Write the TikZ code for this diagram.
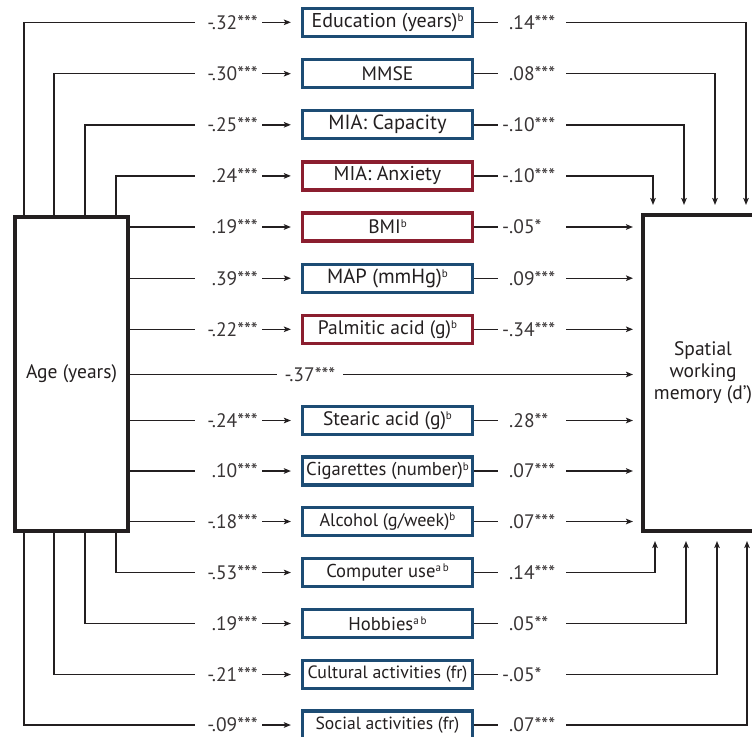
\documentclass[tikz,border=0pt]{standalone}
\usepackage{fontspec}
\setmainfont{PT Sans}
\usetikzlibrary{arrows.meta}
\definecolor{ink}{HTML}{231F20}
\definecolor{navy}{HTML}{1D4C74}
\definecolor{wine}{HTML}{8B1E2F}
\newcommand{\supx}[1]{\raisebox{0.6ex}{\fontsize{11}{11}\selectfont #1}}
\newcommand{\fs}[1]{\fontsize{#1}{20}\selectfont}
\begin{document}
\begin{tikzpicture}[x=1pt,y=-1pt,
  conn/.style={draw=ink, line width=1.4pt},
  arr/.style={conn, -{Stealth[length=7pt,width=5.5pt,inset=1.5pt]}},
  big/.style={draw=ink, line width=4pt, fill=white, inner sep=0pt,
    font=\fontsize{19.5}{22}\selectfont, align=center, text=ink},
  mid/.style={draw=navy, line width=3.2pt, fill=white, minimum width=170pt,
    minimum height=28pt, inner sep=0pt, font=\fs{19.5}, text=ink},
  midr/.style={mid, draw=wine},
  lab/.style={fill=white, inner ysep=2pt, font=\fontsize{19.5}{20}\selectfont, text=ink!90},
  labl/.style={lab, anchor=east, inner xsep=4pt, text width=59pt, align=right},
  labr/.style={lab, anchor=west, inner xsep=0pt, text width=68pt, align=left},
]
\useasboundingbox (0,0) rectangle (752,736);
\clip (0,0) rectangle (752,736);

\node[big, minimum width=113pt, minimum height=314pt] (age) at (71.5,374) {Age (years)};
\node[big, minimum width=120pt, minimum height=316pt] (swm) at (703,373) {Spatial\\working\\memory (d’)};

\node[mid, font=\fs{20}]    (edu) at (387.5,22.3)  {Education (years)\supx{b}};
\node[mid]                  (mmse) at (387.5,73.7) {MMSE};
\node[mid, font=\fs{20.5}]  (cap) at (387.5,124.8) {MIA: Capacity};
\node[midr, font=\fs{20}]   (anx) at (387.5,175.9) {MIA: Anxiety};
\node[midr]                 (bmi) at (387.5,227)   {BMI\supx{b}};
\node[mid, font=\fs{20.5}]  (map) at (387.5,278.2) {MAP (mmHg)\supx{b}};
\node[midr]                 (pal) at (387.5,329.3) {Palmitic acid (g)\supx{b}};
\node[mid]                  (ste) at (387.5,420.5) {Stearic acid (g)\supx{b}};
\node[mid, font=\fs{18.6}]  (cig) at (387.5,471)   {Cigarettes (number)\supx{b}};
\node[mid, font=\fs{18.2}]  (alc) at (387.5,521.5) {Alcohol (g/week)\supx{b}};
\node[mid, font=\fs{18.6}]  (com) at (387.5,572.5) {Computer use\supx{a\,b}};
\node[mid, font=\fs{18.6}]  (hob) at (387.5,623.5) {Hobbies\supx{a\,b}};
\node[mid, font=\fs{17.8}]  (cul) at (387.5,674.5) {Cultural activities (fr)};
\node[mid, font=\fs{17.6}]  (soc) at (387.5,725)   {Social activities (fr)};

% left connectors: elbows from top
\draw[arr, shorten >=10pt] ([xshift=11pt]age.north west) |- (edu.west);
\draw[arr, shorten >=10pt] ([xshift=41pt]age.north west) |- (mmse.west);
\draw[arr, shorten >=10pt] ([xshift=72pt]age.north west) |- (cap.west);
\draw[arr, shorten >=10pt] ([xshift=103pt]age.north west) |- (anx.west);
% left straight
\foreach \n in {bmi,map,pal,ste,cig,alc}
  \draw[arr, shorten >=10pt] (age.east |- \n.west) -- (\n.west);
% left elbows from bottom
\draw[arr, shorten >=10pt] ([xshift=103pt]age.south west) |- (com.west);
\draw[arr, shorten >=10pt] ([xshift=72pt]age.south west) |- (hob.west);
\draw[arr, shorten >=10pt] ([xshift=41pt]age.south west) |- (cul.west);
\draw[arr, shorten >=10pt] ([xshift=11pt]age.south west) |- (soc.west);
% direct
\draw[arr, shorten >=8pt] (age.east |- 0,374.5) -- (swm.west |- 0,374.5);

% right connectors
\draw[arr, shorten >=8pt] (edu.east) -| ([xshift=105pt]swm.north west);
\draw[arr, shorten >=8pt] (mmse.east) -| ([xshift=74pt]swm.north west);
\draw[arr, shorten >=8pt] (cap.east) -| ([xshift=43pt]swm.north west);
\draw[arr, shorten >=8pt] (anx.east) -| ([xshift=12pt]swm.north west);
\foreach \n in {bmi,map,pal,ste,cig,alc}
  \draw[arr, shorten >=8pt] (\n.east) -- (swm.west |- \n.east);
\draw[arr, shorten >=8pt] (com.east) -| ([xshift=14pt]swm.south west);
\draw[arr, shorten >=8pt] (hob.east) -| ([xshift=45pt]swm.south west);
\draw[arr, shorten >=8pt] (cul.east) -| ([xshift=76pt]swm.south west);
\draw[arr, shorten >=8pt] (soc.east) -| ([xshift=106pt]swm.south west);

% left labels
\node[labl] (l1) at (262,22.3) {-.32***};
\node[labl] (l2) at (262,73.7) {-.30***};
\node[labl] (l3) at (262,124.8) {-.25***};
\node[labl] (l4) at (262,175.9) {.24***};
\node[labl] (l5) at (262,227) {.19***};
\node[labl] (l6) at (262,278.2) {.39***};
\node[labl] (l7) at (262,329.3) {-.22***};
\node[labl] (l8) at (262,420.5) {-.24***};
\node[labl] (l9) at (262,471) {.10***};
\node[labl] (l10) at (262,521.5) {-.18***};
\node[labl] (l11) at (262,572.5) {-.53***};
\node[labl] (l12) at (262,623.5) {.19***};
\node[labl] (l13) at (262,674.5) {-.21***};
\node[labl] (l14) at (262,725) {-.09***};
\node[lab, minimum width=66pt, inner xsep=0pt] (l0) at (310,374.5) {-.37***};

% right labels
\node[labr] (r1) at (498,22.3) {\hspace*{11pt}.14***};
\node[labr] (r2) at (498,73.7) {\hspace*{11pt}.08***};
\node[labr] (r3) at (498,124.8) {\hspace*{11pt}\llap{-}.10***};
\node[labr] (r4) at (498,175.9) {\hspace*{11pt}\llap{-}.10***};
\node[labr] (r5) at (498,227) {\hspace*{11pt}\llap{-}.05*};
\node[labr] (r6) at (498,278.2) {\hspace*{11pt}.09***};
\node[labr] (r7) at (498,329.3) {\hspace*{11pt}\llap{-}.34***};
\node[labr] (r8) at (498,420.5) {\hspace*{11pt}.28**};
\node[labr] (r9) at (498,471) {\hspace*{11pt}.07***};
\node[labr] (r10) at (498,521.5) {\hspace*{11pt}.07***};
\node[labr] (r11) at (498,572.5) {\hspace*{11pt}.14***};
\node[labr] (r12) at (498,623.5) {\hspace*{11pt}.05**};
\node[labr] (r13) at (498,674.5) {\hspace*{11pt}\llap{-}.05*};
\node[labr] (r14) at (498,725) {\hspace*{11pt}.07***};
\end{tikzpicture}
\end{document}
